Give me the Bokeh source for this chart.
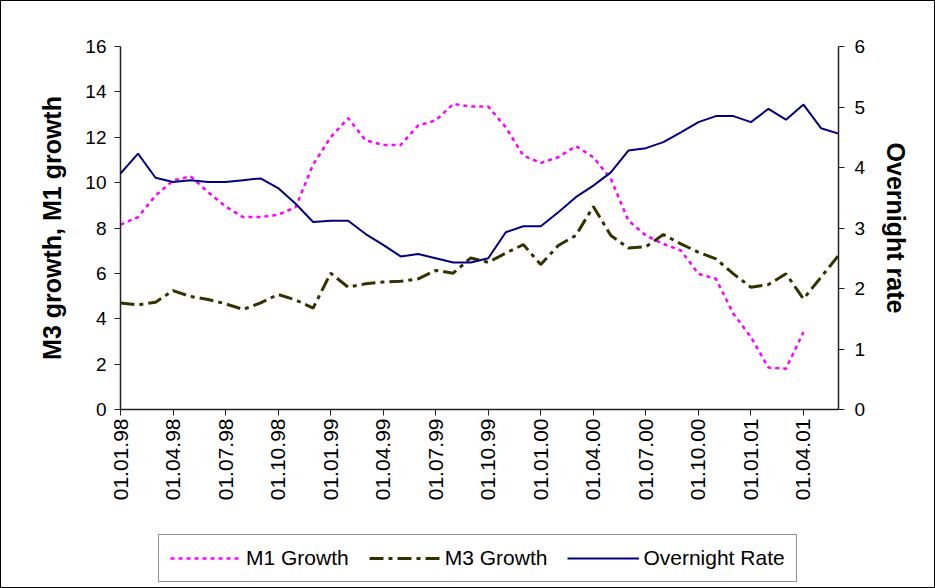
import math
from bokeh.plotting import figure
from bokeh.layouts import column
from bokeh.models import Range1d, LinearAxis, FixedTicker, Legend, LegendItem
from bokeh.embed import file_html
from bokeh.resources import INLINE

# monthly observations, January 1998 .. June 2001
months = ["1998-01", "1998-02", "1998-03", "1998-04", "1998-05", "1998-06",
          "1998-07", "1998-08", "1998-09", "1998-10", "1998-11", "1998-12",
          "1999-01", "1999-02", "1999-03", "1999-04", "1999-05", "1999-06",
          "1999-07", "1999-08", "1999-09", "1999-10", "1999-11", "1999-12",
          "2000-01", "2000-02", "2000-03", "2000-04", "2000-05", "2000-06",
          "2000-07", "2000-08", "2000-09", "2000-10", "2000-11", "2000-12",
          "2001-01", "2001-02", "2001-03", "2001-04", "2001-05", "2001-06"]

m1_growth = [8.15, 8.48, 9.43, 10.09, 10.28, 9.58, 8.95, 8.48, 8.48, 8.58,
             8.92, 10.8, 12.0, 12.84, 11.86, 11.66, 11.66, 12.52, 12.74, 13.47,
             13.35, 13.35, 12.44, 11.19, 10.87, 11.12, 11.61, 11.12, 10.17, 8.33,
             7.67, 7.30, 7.01, 5.98, 5.76, 4.22, 3.19, 1.85, 1.80, 3.41,
             float("nan"), float("nan")]

m3_growth = [4.69, 4.61, 4.73, 5.24, 4.98, 4.85, 4.66, 4.41, 4.70, 5.07,
             4.83, 4.47, 6.01, 5.39, 5.54, 5.62, 5.65, 5.76, 6.13, 6.01,
             6.68, 6.49, 6.89, 7.27, 6.39, 7.23, 7.67, 8.95, 7.67, 7.12,
             7.17, 7.71, 7.30, 6.93, 6.64, 5.98, 5.39, 5.51, 5.98, 4.88,
             5.83, 6.79]

overnight_rate = [3.90, 4.23, 3.83, 3.76, 3.79, 3.76, 3.76, 3.79, 3.82, 3.66,
                  3.40, 3.10, 3.12, 3.12, 2.90, 2.72, 2.53, 2.57, 2.50, 2.43,
                  2.43, 2.50, 2.93, 3.03, 3.03, 3.26, 3.51, 3.70, 3.92, 4.28,
                  4.32, 4.42, 4.58, 4.75, 4.85, 4.85, 4.75, 4.97, 4.79, 5.04,
                  4.65, 4.56]

tick_labels = ["01.01.98", "01.04.98", "01.07.98", "01.10.98", "01.01.99",
               "01.04.99", "01.07.99", "01.10.99", "01.01.00", "01.04.00",
               "01.07.00", "01.10.00", "01.01.01", "01.04.01"]

series_names = ["M1 Growth", "M3 Growth", "Overnight Rate"]

x = list(range(len(months)))
tick_pos = [x[i] for i in range(0, len(months), 3)][:len(tick_labels)]

FONT = "Liberation Sans"
STYLES = [dict(line_color="#FF00FF", line_width=2.5, line_dash="4 4"),
          dict(line_color="#333300", line_width=3, line_dash="14 5 4 5"),
          dict(line_color="#000080", line_width=2)]

p = figure(width=933, height=522, output_backend="svg", toolbar_location=None,
           x_range=Range1d(0, len(months) - 1), y_range=Range1d(0, 16),
           min_border_left=119, min_border_top=45, min_border_right=96,
           min_border_bottom=114)
p.outline_line_color = None
p.xgrid.visible = False
p.ygrid.visible = False
p.background_fill_color = "white"
p.border_fill_color = "white"

p.extra_y_ranges = {"rate": Range1d(0, 6)}

# x axis
xa = p.xaxis[0]
xa.ticker = FixedTicker(ticks=tick_pos, minor_ticks=[])
xa.major_label_overrides = {t: l for t, l in zip(tick_pos, tick_labels)}
xa.major_label_orientation = math.pi / 2
xa.major_label_text_font = FONT
xa.major_label_text_font_size = "21px"
xa.major_label_text_color = "black"
xa.major_label_standoff = 3
xa.major_tick_out = 6
xa.major_tick_in = 0
xa.minor_tick_line_color = None
xa.axis_line_color = "#222222"
xa.axis_line_width = 1.5
xa.major_tick_line_color = "#222222"

# left axis
ya = p.yaxis[0]
ya.ticker = FixedTicker(ticks=list(range(0, 17, 2)), minor_ticks=[])
ya.axis_label = "M3 growth, M1 growth"
ya.axis_label_text_font = FONT
ya.axis_label_text_font_style = "bold"
ya.axis_label_text_font_size = "25px"
ya.axis_label_text_color = "black"
ya.axis_label_standoff = 16
ya.major_label_text_font = FONT
ya.major_label_text_font_size = "19px"
ya.major_label_text_color = "black"
ya.major_label_standoff = 8
ya.major_tick_out = 6
ya.major_tick_in = 0
ya.minor_tick_line_color = None
ya.axis_line_color = "#222222"
ya.axis_line_width = 1.5
ya.major_tick_line_color = "#222222"

# right axis
ra = LinearAxis(y_range_name="rate", axis_label="Overnight rate",
                ticker=FixedTicker(ticks=list(range(0, 7)), minor_ticks=[]))
ra.axis_label_text_font = FONT
ra.axis_label_text_font_style = "bold"
ra.axis_label_text_font_size = "25px"
ra.axis_label_text_color = "black"
ra.axis_label_standoff = 14
ra.major_label_text_font = FONT
ra.major_label_text_font_size = "19px"
ra.major_label_text_color = "black"
ra.major_label_standoff = 10
ra.major_tick_out = 6
ra.major_tick_in = 0
ra.minor_tick_line_color = None
ra.axis_line_color = "#222222"
ra.axis_line_width = 1.5
ra.major_tick_line_color = "#222222"
p.add_layout(ra, "right")

p.line(x, m1_growth, **STYLES[0])
p.line(x, m3_growth, **STYLES[1])
p.line(x, overnight_rate, y_range_name="rate", **STYLES[2])

# legend strip below the chart (its frame is aligned with the chart's frame)
lp = figure(width=933, height=64, output_backend="svg", toolbar_location=None,
            x_axis_type=None, y_axis_type=None,
            x_range=Range1d(0, 1), y_range=Range1d(0, 1),
            min_border=0, min_border_left=0, min_border_right=0,
            min_border_top=0, min_border_bottom=0)
lp.outline_line_color = None
lp.background_fill_color = "white"
lp.border_fill_color = "white"

nan = float("nan")
items = []
for name, st in zip(series_names, STYLES):
    r = lp.line([nan], [nan], **st)
    items.append(LegendItem(label=name, renderers=[r]))

lg = Legend(items=items, orientation="horizontal", location=(38, 5))
lg.border_line_color = "#222222"
lg.border_line_width = 1
lg.background_fill_color = "white"
lg.background_fill_alpha = 1
lg.label_text_font = FONT
lg.label_text_font_size = "21px"
lg.label_text_color = "black"
lg.glyph_width = 72
lg.glyph_height = 20
lg.label_height = 20
lg.label_standoff = 4
lg.spacing = 20
lg.padding = 11
lg.margin = 0
lp.add_layout(lg, "center")

layout = column(p, lp, spacing=0, styles={"border": "1px solid #000000"})

open("out.html", "w").write(file_html(layout, INLINE))
